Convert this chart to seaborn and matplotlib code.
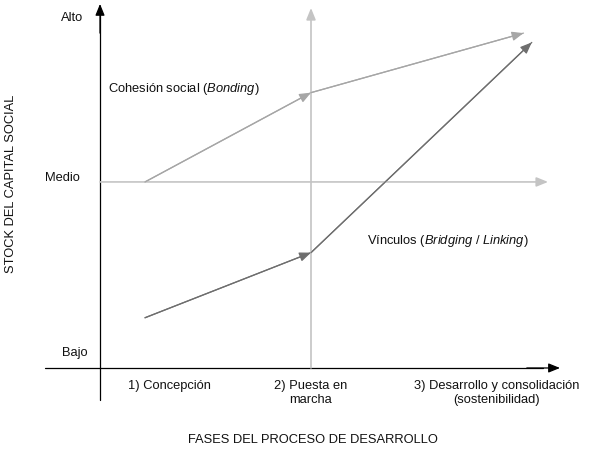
import matplotlib
matplotlib.use("Agg")
import matplotlib.pyplot as plt
import seaborn as sns
import pandas as pd

# phases on x (1, 2, 3) and capital level on y (0 = bajo, 1 = medio)
phases = ["1) Concepción", "2) Puesta en\nmarcha", "3) Desarrollo y consolidación\n(sostenibilidad)"]
phase_pos = [1.15, 2.0, 3.12]
levels = ["Bajo", "Medio", "Alto"]
level_pos = [0.08, 1.02, 1.88]
level_x = [0.575, 0.50, 0.56]

bonding_x = [1.0, 2.0, 3.28]
bonding_y = [1.0, 1.48, 1.80]
vinculos_x = [1.0, 2.0, 3.33]
vinculos_y = [0.27, 0.62, 1.75]

sns.set_theme(style="white")
plt.rcParams['font.family'] = ['Liberation Sans', 'DejaVu Sans']
plt.rcParams['mathtext.fontset'] = 'custom'
plt.rcParams['mathtext.it'] = 'Liberation Sans:italic'
plt.rcParams['mathtext.rm'] = 'Liberation Sans'

fig = plt.figure(figsize=(5.89, 4.49), dpi=100)
ax = fig.add_axes([0, 0, 1, 1])
ax.set_xlim(0.1265, 3.6747)
ax.set_ylim(-0.4355, 1.978)
ax.axis("off")

guide = "#c4c4c4"
c_bond = "#a6a6a6"
c_vinc = "#6e6e6e"
txt = "#111111"


def arrow(x0, y0, x1, y1, color, lw, head=0.36):
    ax.annotate("", xy=(x1, y1), xytext=(x0, y0),
                arrowprops=dict(arrowstyle=f"-|>,head_length={head*1.6},head_width={head*0.65}",
                                color=color, lw=lw, shrinkA=0, shrinkB=0))


# axes drawn as arrows
ax.plot([0.729, 0.729], [-0.172, 1.9], color="black", lw=0.9)
arrow(0.729, 1.8, 0.729, 1.957, "black", 0.9)
ax.plot([0.398, 3.4], [0, 0], color="black", lw=0.9)
arrow(3.3, 0, 3.5, 0, "black", 0.9)

# guide lines
arrow(2.0, 0, 2.0, 1.935, guide, 1.2)
arrow(0.729, 1.0, 3.428, 1.0, guide, 1.2)

# series
df = pd.DataFrame({
    "x": bonding_x + vinculos_x,
    "y": bonding_y + vinculos_y,
    "serie": ["bonding"] * 3 + ["vinculos"] * 3,
})
sns.lineplot(data=df, x="x", y="y", hue="serie", sort=False, estimator=None,
             palette={"bonding": c_bond, "vinculos": c_vinc}, lw=0.9,
             legend=False, ax=ax)
for xs, ys, c in [(bonding_x, bonding_y, c_bond), (vinculos_x, vinculos_y, c_vinc)]:
    for i in range(1, len(xs)):
        arrow(xs[i - 1], ys[i - 1], xs[i], ys[i], c, 0.9)

fs = 9.3
for lab, x, y in zip(levels, level_x, level_pos):
    ax.text(x, y, lab, ha="center", va="center", fontsize=fs, color=txt)
for lab, x in zip(phases, phase_pos):
    ax.text(x, -0.065, lab, ha="center", va="top", fontsize=fs, color=txt,
            linespacing=1.2)

ax.text(0.776, 1.50, "Cohesión social ($\\it{Bonding}$)", ha="left", va="center",
        fontsize=fs, color=txt)
ax.text(2.34, 0.685, "Vínculos ($\\it{Bridging}$ / $\\it{Linking}$)", ha="left", va="center",
        fontsize=fs, color=txt)

ax.text(2.01, -0.385, "FASES DEL PROCESO DE DESARROLLO", ha="center", va="center",
        fontsize=fs, color=txt)
ax.text(0.195, 0.99, "STOCK DEL CAPITAL SOCIAL", ha="center", va="center",
        rotation=90, fontsize=fs, color=txt)

fig.savefig("out.png", dpi=100)
